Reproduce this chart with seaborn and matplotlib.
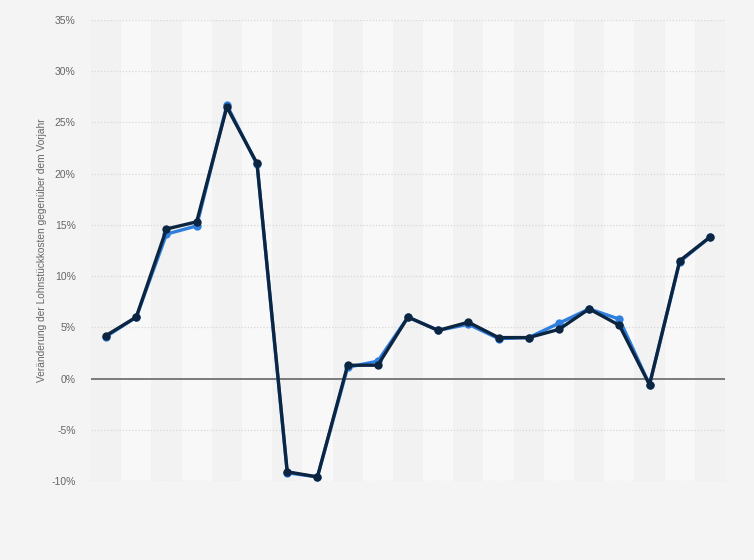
import matplotlib
matplotlib.use("Agg")
import matplotlib.pyplot as plt
import seaborn as sns
import pandas as pd
import numpy as np

# data (21 periods, x labels not shown in the reference)
periods = list(range(1, 22))
series_blue = [4.1, 6.0, 14.1, 14.9, 26.7, 20.9, -9.2, -9.6, 1.1, 1.7, 6.0, 4.7,
               5.3, 3.9, 4.0, 5.4, 6.8, 5.8, -0.6, 11.4, 13.8]
series_dark = [4.2, 6.0, 14.6, 15.3, 26.5, 21.0, -9.1, -9.6, 1.3, 1.3, 6.0, 4.7,
               5.5, 4.0, 4.0, 4.8, 6.8, 5.2, -0.6, 11.5, 13.8]
y_ticks = [-10, -5, 0, 5, 10, 15, 20, 25, 30, 35]
y_label = "Veränderung der Lohnstückkosten gegenüber dem Vorjahr"

sns.set_style("white")
plt.rcParams['font.family'] = ['Liberation Sans', 'DejaVu Sans']

df = pd.DataFrame({
    "pos": list(range(len(periods))) * 2,
    "value": series_blue + series_dark,
    "series": ["blue"] * len(periods) + ["dark"] * len(periods),
})

fig = plt.figure(figsize=(7.54, 5.6), dpi=100, facecolor="#f4f4f4")
ax = fig.add_axes([91 / 754, 1 - 481 / 560, (725 - 91) / 754, (481 - 20) / 560])
ax.set_facecolor("#f4f4f4")

n = len(periods)
for i in range(n):
    ax.axvspan(i - 0.5, i + 0.5, color="#f8f8f8" if i % 2 == 1 else "#f2f2f2",
               zorder=0, lw=0)

for t in y_ticks:
    if t == 0:
        ax.axhline(0, color="#666666", lw=1.2, zorder=1)
    else:
        ax.axhline(t, color="#d8d8d8", lw=0.9, ls=(0, (1, 1.5)), zorder=1)

sns.lineplot(data=df, x="pos", y="value", hue="series",
             palette={"blue": "#2f7fde", "dark": "#0c2540"},
             marker="o", markersize=6, markeredgewidth=0, linewidth=2.4,
             legend=False, ax=ax, zorder=3)

ax.set_xlim(-0.5, n - 0.5)
ax.set_ylim(-10, 35)
ax.set_yticks(y_ticks)
ax.set_yticklabels([f"{t}%" for t in y_ticks], color="#666666", fontsize=7.5)
ax.set_xticks([])
ax.set_xlabel("")
ax.set_ylabel(y_label, color="#666666", fontsize=7.3, labelpad=3)
ax.tick_params(axis="y", length=0, pad=11)
for s in ax.spines.values():
    s.set_visible(False)

fig.savefig("out.png", dpi=100, facecolor=fig.get_facecolor())
